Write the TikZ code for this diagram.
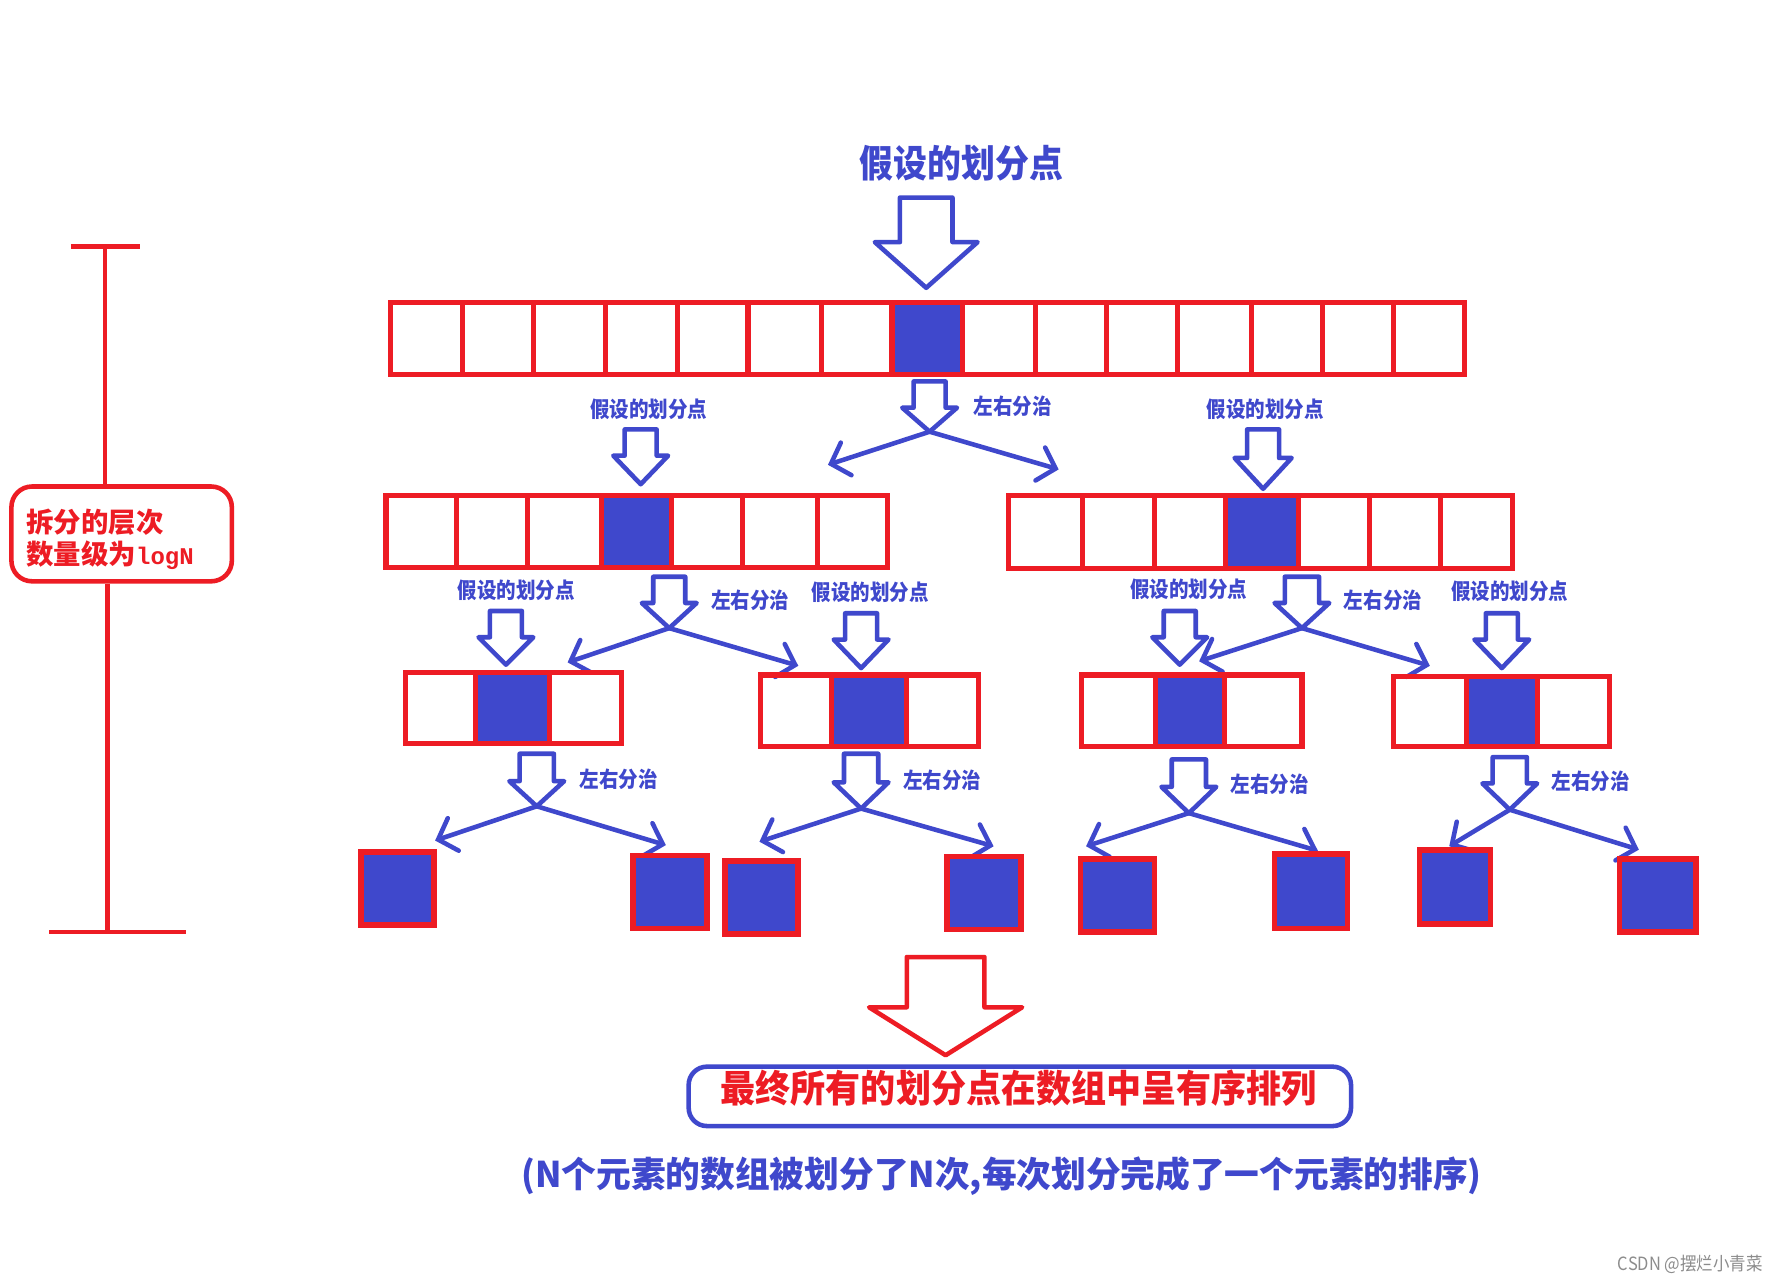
\documentclass[tikz,border=0pt]{standalone}
\usepackage{fontspec}
\usetikzlibrary{arrows.meta}
\newfontfamily\cjk[FakeStretch=0.9]{Noto Sans CJK SC}
\newfontfamily\cjkm[FakeStretch=0.93]{Noto Sans CJK SC}
\newfontfamily\cjkn[FakeStretch=0.98]{Noto Sans CJK SC}
\newfontfamily\cjkw{Noto Sans CJK SC}
\newfontfamily\monob{Liberation Mono}
\definecolor{pred}{RGB}{237,28,36}
\definecolor{pblu}{RGB}{63,72,204}
\tikzset{
  redline/.style={draw=pred, line width=4.5pt},
  hollow/.style={line width=4pt, line join=round, fill=white},
  splitline/.style={draw=pblu, line width=4pt, line cap=round,
    -{Straight Barb[length=14pt,width=30pt,line cap=round]}},
  lbl/.style={text=pblu, font=\cjk\bfseries\fontsize{19}{20}\selectfont, inner sep=0pt},
  leafbox/.style={fill=pblu, draw=pred, line width=5pt},
}
% #1 colour, #2 centre x, #3 top y, #4 shaft half width, #5 shoulder y, #6 head half width, #7 tip y
\newcommand\harrow[7][pblu]{%
  \draw[hollow, draw=#1] ({#2-#4},#3) -- ({#2+#4},#3) -- ({#2+#4},#5) -- ({#2+#6},#5)
    -- (#2,#7) -- ({#2-#6},#5) -- ({#2-#4},#5) -- cycle;}
\newcommand\cellrow[7]{%
  \fill[pblu] (#6,#1) rectangle (#7,#2);
  \draw[redline] (#3,#1) rectangle (#4,#2);
  \foreach \xx in {#5} {\draw[redline] (\xx,#1) -- (\xx,#2);}
}
\begin{document}
\begin{tikzpicture}[x=1pt, y=-1pt]
\useasboundingbox[fill=white] (0,0) rectangle (1563,1119);

% title
\node[text=pblu, font=\cjk\bfseries\fontsize{33}{36}\selectfont, inner sep=0pt] (title) at (842,143) {假设的划分点};
\harrow{811}{173}{23}{212}{45}{252}

% top array
\cellrow{265}{328}{342}{1282}{405,467,530,593,655,719,781,843,907,969,1031,1096,1158,1220}{781}{843}

% level 1 arrows and labels
\harrow{814}{334}{14}{357}{24}{378}
\coordinate (s0) at (814,378);
\coordinate (s0l) at (725,407);
\coordinate (s0r) at (927,411);
\draw[splitline] (s0) -- (s0l);
\draw[splitline] (s0) -- (s0r);
\node[lbl] (p1a) at (568,358) {假设的划分点};
\node[lbl] (d0)  at (887,356) {左右分治};
\node[lbl] (p1b) at (1108,358) {假设的划分点};
\harrow{561}{376}{14}{399}{24}{424}
\harrow{1106}{376}{14}{401}{25}{428}

% level 1 arrays
\cellrow{434}{497}{338}{777}{400,462,527,588,650,716}{527}{588}
\cellrow{434}{498}{883}{1324}{948,1011,1073,1137,1199,1261}{1073}{1137}

% level 2 labels and arrows
\node[lbl] (p2a) at (452,517) {假设的划分点};
\node[lbl] (d1a) at (657,526) {左右分治};
\node[lbl] (p2b) at (762,519) {假设的划分点};
\node[lbl] (p2c) at (1041,516) {假设的划分点};
\node[lbl] (d1b) at (1211,526) {左右分治};
\node[lbl] (p2d) at (1322,518) {假设的划分点};
\harrow{586}{505}{14}{528}{24}{550}
\harrow{1140}{505}{15}{528}{24}{550}
\coordinate (s1a) at (586,550);
\coordinate (s1b) at (1140,550);
\coordinate (s1al) at (497,580);
\coordinate (s1ar) at (699,583);
\coordinate (s1bl) at (1050,579);
\coordinate (s1br) at (1252,583);
\draw[splitline] (s1a) -- (s1al);
\draw[splitline] (s1a) -- (s1ar);
\draw[splitline] (s1b) -- (s1bl);
\draw[splitline] (s1b) -- (s1br);
\harrow{443}{535}{14}{558}{24}{582}
\harrow{754}{537}{14}{560}{24}{585}
\harrow{1033}{535}{14}{558}{24}{582}
\harrow{1315}{537}{14}{560}{24}{585}

% level 2 arrays
\cellrow{589}{651}{355}{544}{416,481}{416}{481}
\cellrow{591}{654}{666}{857}{728,794}{728}{794}
\cellrow{591}{654}{947}{1140}{1012,1072}{1012}{1072}
\cellrow{592}{654}{1220}{1409}{1284,1346}{1284}{1346}

% level 3 arrows and labels
\node[lbl] (d2a) at (542,682) {左右分治};
\node[lbl] (d2b) at (825,683) {左右分治};
\node[lbl] (d2c) at (1112,687) {左右分治};
\node[lbl] (d2d) at (1393,684) {左右分治};
\harrow{470}{660}{15}{684}{24}{706}
\harrow{754}{660}{15}{685}{24}{708}
\harrow{1041}{665}{15}{689}{24}{712}
\harrow{1322}{663}{15}{686}{24}{709}
\coordinate (s2a) at (470,706);
\coordinate (s2b) at (754,708);
\coordinate (s2c) at (1041,712);
\coordinate (s2d) at (1322,709);
\coordinate (s2al) at (381,736);
\coordinate (s2ar) at (583,740);
\coordinate (s2bl) at (665,737);
\coordinate (s2br) at (870,741);
\coordinate (s2cl) at (951,741);
\coordinate (s2cr) at (1154,745);
\coordinate (s2dl) at (1269,741);
\coordinate (s2dr) at (1435,744);
\foreach \a in {a,b,c,d} {
  \draw[splitline] (s2\a) -- (s2\a l);
  \draw[splitline] (s2\a) -- (s2\a r);
}

% leaves
\draw[leafbox] (316,746) rectangle (380,810);
\draw[leafbox] (554,749) rectangle (619,813);
\draw[leafbox] (635,754) rectangle (699,818);
\draw[leafbox] (829,750) rectangle (894,814);
\draw[leafbox] (946,752) rectangle (1011,816);
\draw[leafbox] (1116,748) rectangle (1180,813);
\draw[leafbox] (1243,744) rectangle (1305,809);
\draw[leafbox] (1418,752) rectangle (1485,816);

% left bracket
\node[draw=pred, line width=4pt, rounded corners=18pt, minimum width=193pt, minimum height=83pt, inner sep=0pt] (lvl) at (106.5,467.5) {};
\node[anchor=west, text=pred, align=left, inner sep=0pt,
      font=\cjkw\bfseries\fontsize{24}{28}\selectfont] (lvltxt) at (23,472)
      {拆分的层次\\数量级为{\monob\bfseries\fontsize{21}{28}\selectfont logN}};
\coordinate (btop) at (92,216);
\coordinate (bbot) at (94,816);
\coordinate (btl) at (62,216);
\coordinate (btr) at (123,216);
\coordinate (bbl) at (43,816);
\coordinate (bbr) at (163,816);
\draw[redline, line width=4pt] (btl) -- (btr);
\draw[redline, line width=4pt] (bbl) -- (bbr);
\draw[redline, line width=4pt] (btop) -- (lvl.north -| btop);
\draw[redline, line width=4pt] (lvl.south -| bbot) -- (bbot);

% bottom
\harrow[pred]{828}{838}{34}{882}{67}{924}
\node[draw=pblu, line width=4pt, rounded corners=16pt, minimum width=580pt, minimum height=52pt, inner sep=0pt] (finalbox) at (893,960) {};
\node[text=pred, font=\cjkm\bfseries\fontsize{33}{36}\selectfont, inner sep=0pt] (finaltxt) at (892,953) {最终所有的划分点在数组中呈有序排列};
\node[text=pblu, font=\cjkn\bfseries\fontsize{31}{34}\selectfont, inner sep=0pt] (note) at (877,1030) {(N个元素的数组被划分了N次,每次划分完成了一个元素的排序)};
\node[text=black!45, font=\cjk\fontsize{16}{18}\selectfont, inner sep=0pt] (wm) at (1480,1107) {CSDN @摆烂小青菜};
\end{tikzpicture}
\end{document}
